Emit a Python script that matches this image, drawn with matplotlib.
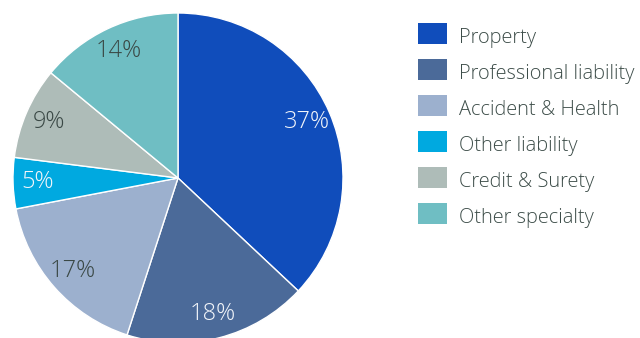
import matplotlib
matplotlib.use("Agg")
import matplotlib.pyplot as plt
from matplotlib.patches import Rectangle

labels = ["Property", "Professional liability", "Accident & Health",
          "Other liability", "Credit & Surety", "Other specialty"]
shares = [37, 18, 17, 5, 9, 14]
colors = ["#104DBB", "#4B6A99", "#9CB0CE", "#00A9E0", "#AEBCB8", "#6FBEC3"]
pct_colors = ["#F2F5FA", "#F2F5FA", "#3A4845", "#F2F5FA", "#3A4845", "#3A4845"]

plt.rcParams["font.family"] = ["Open Sans", "DejaVu Sans"]

W, H = 640, 338
fig = plt.figure(figsize=(W / 100, H / 100), dpi=100)

# pie axes: centre at (178, 178) px, radius 165 px
r = 165
cx, cy = 178, H - 178
ax = fig.add_axes([(cx - r) / W, (cy - r) / H, 2 * r / W, 2 * r / H])
wedges, texts, autotexts = ax.pie(
    shares, colors=colors, startangle=90, counterclock=False,
    radius=1.0, autopct="%d%%", pctdistance=0.85,
    wedgeprops=dict(edgecolor="white", linewidth=1.0),
    textprops=dict(fontsize=17, fontweight="light"),
)
for t, c in zip(autotexts, pct_colors):
    t.set_color(c)
ax.set_xlim(-1, 1)
ax.set_ylim(-1, 1)
ax.set_aspect("equal")
ax.axis("off")

# legend drawn by hand in pixel units (origin top-left)
box_x, box_w, box_h = 418, 29, 21
top, step = 23, 36
text_x = 459
for i, (lab, col) in enumerate(zip(labels, colors)):
    y0 = top + i * step
    fig.patches.append(Rectangle(
        (box_x / W, 1 - (y0 + box_h) / H), box_w / W, box_h / H,
        transform=fig.transFigure, facecolor=col, edgecolor="none"))
    fig.text(text_x / W, 1 - (y0 + box_h - 1) / H, lab,
             fontsize=14.4, fontweight="light", color="#3D4D49",
             ha="left", va="baseline")

fig.savefig("out.png", dpi=100)
